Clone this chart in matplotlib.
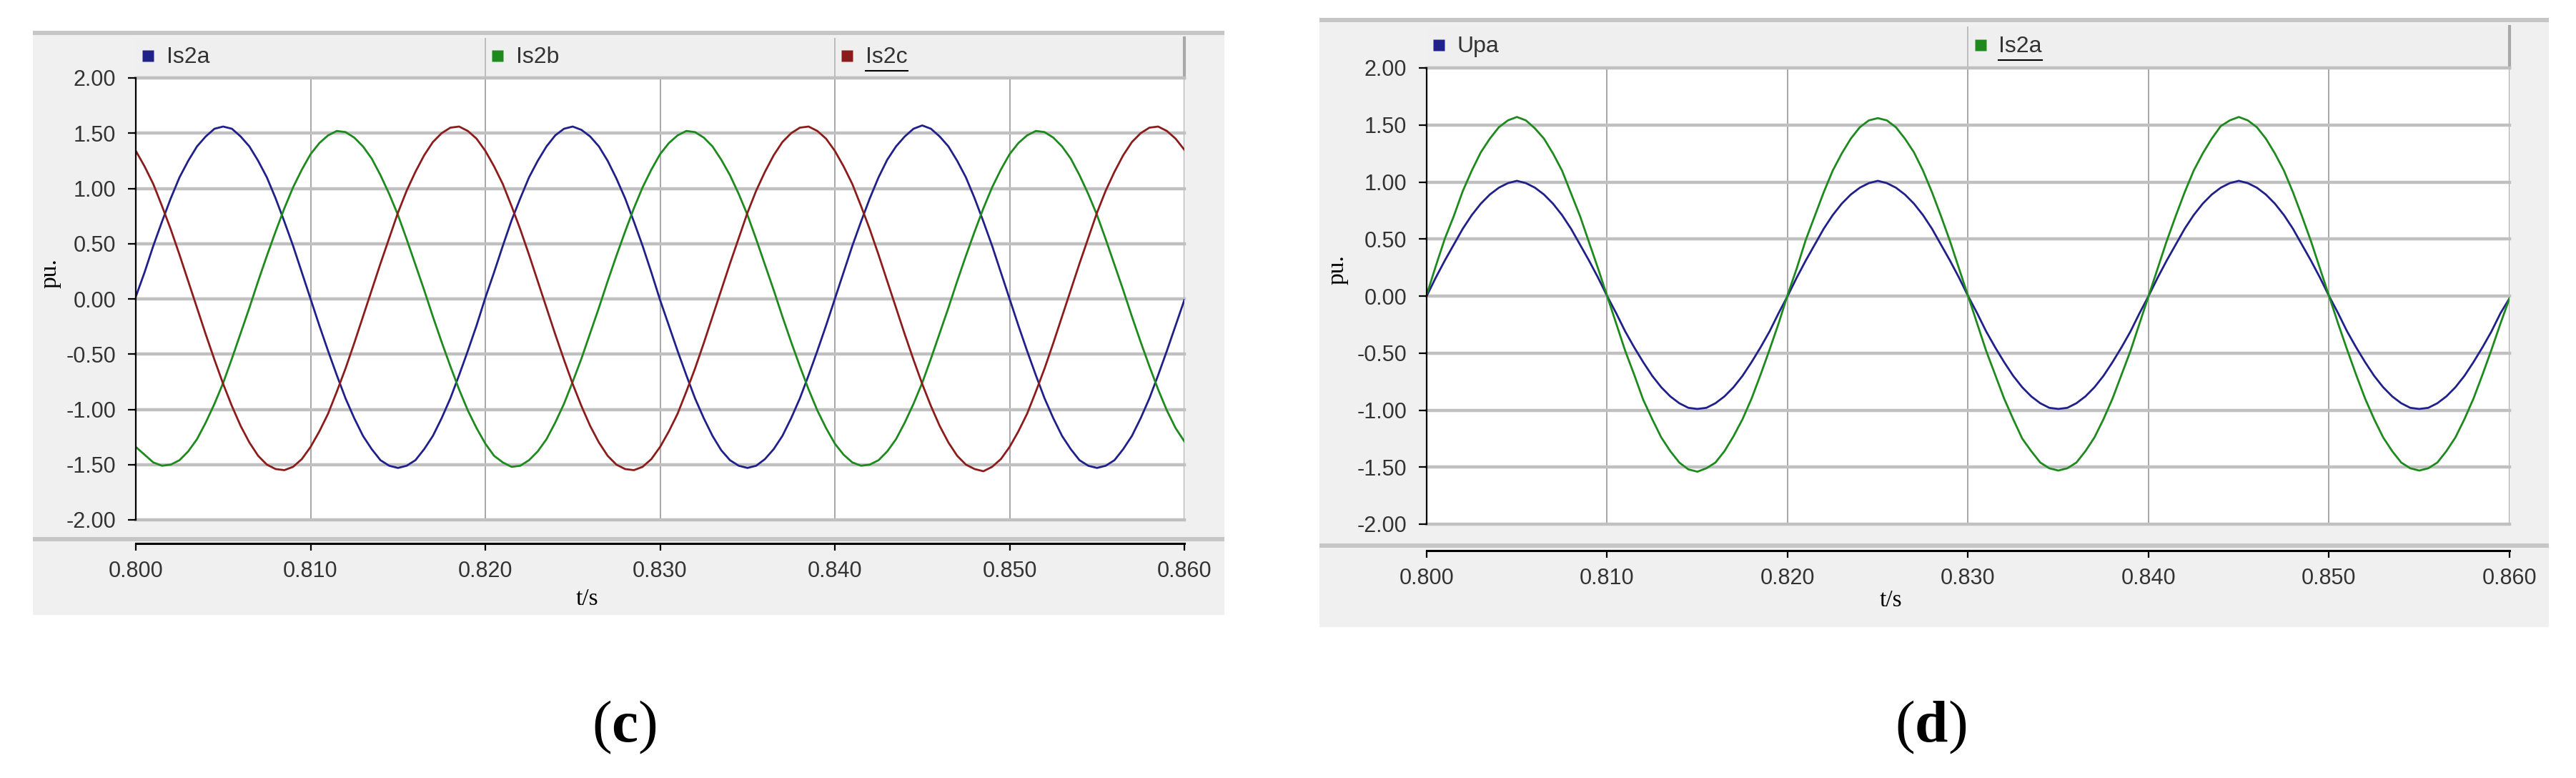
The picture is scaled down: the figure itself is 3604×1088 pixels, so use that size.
import numpy as np
import matplotlib
matplotlib.use("Agg")
import matplotlib.pyplot as plt
from matplotlib.patches import Rectangle
from matplotlib.lines import Line2D

plt.rcParams['mathtext.fontset'] = 'custom'
plt.rcParams['mathtext.rm'] = 'Liberation Serif'
plt.rcParams['mathtext.bf'] = 'Liberation Serif:bold'

W, H = 3604, 1088

# sample times (0.5 ms apart)
t = np.round(np.arange(0.800, 0.86025, 0.0005), 4)

x_ticks = [0.800, 0.810, 0.820, 0.830, 0.840, 0.850, 0.860]
y_ticks = [-2.0, -1.5, -1.0, -0.5, 0.0, 0.5, 1.0, 1.5, 2.0]

# panel (c): three phase currents
names_c = ["Is2a", "Is2b", "Is2c"]
colors_c = ["#20208a", "#1e8a1e", "#8c1c1c"]
is2a_c = [0.02, 0.24, 0.48, 0.70, 0.91, 1.10, 1.25, 1.38, 1.47, 1.54, 1.56, 1.54, 1.47, 1.38, 1.25, 1.10, 0.91, 0.70, 0.48, 0.24,
          0.00, -0.24, -0.47, -0.69, -0.90, -1.08, -1.24, -1.36, -1.46, -1.51, -1.53, -1.51, -1.46, -1.36, -1.24, -1.08, -0.90, -0.69, -0.47, -0.24,
          0.01, 0.24, 0.48, 0.71, 0.91, 1.10, 1.25, 1.38, 1.48, 1.54, 1.56, 1.53, 1.47, 1.38, 1.25, 1.09, 0.91, 0.70, 0.48, 0.24,
          -0.01, -0.24, -0.47, -0.69, -0.90, -1.08, -1.24, -1.37, -1.46, -1.51, -1.53, -1.51, -1.45, -1.36, -1.24, -1.08, -0.90, -0.69, -0.47, -0.24,
          0.00, 0.24, 0.48, 0.70, 0.91, 1.10, 1.26, 1.38, 1.47, 1.54, 1.57, 1.54, 1.47, 1.38, 1.25, 1.10, 0.91, 0.70, 0.48, 0.24,
          0.00, -0.24, -0.47, -0.69, -0.90, -1.08, -1.24, -1.36, -1.46, -1.51, -1.53, -1.51, -1.46, -1.36, -1.24, -1.08, -0.90, -0.69, -0.47, -0.24,
          -0.01]
is2b_c = [-1.34, -1.41, -1.48, -1.51, -1.50, -1.46, -1.38, -1.27, -1.12, -0.95, -0.76, -0.54, -0.31, -0.08, 0.16, 0.39, 0.61, 0.82, 1.01, 1.17,
          1.31, 1.41, 1.48, 1.52, 1.51, 1.46, 1.38, 1.27, 1.12, 0.95, 0.76, 0.54, 0.31, 0.08, -0.16, -0.39, -0.61, -0.82, -1.01, -1.17,
          -1.31, -1.42, -1.48, -1.52, -1.51, -1.46, -1.38, -1.27, -1.12, -0.95, -0.75, -0.54, -0.31, -0.08, 0.16, 0.39, 0.61, 0.82, 1.01, 1.17,
          1.31, 1.41, 1.48, 1.52, 1.51, 1.46, 1.38, 1.26, 1.12, 0.95, 0.76, 0.54, 0.31, 0.08, -0.16, -0.39, -0.61, -0.82, -1.01, -1.17,
          -1.31, -1.41, -1.48, -1.51, -1.50, -1.46, -1.38, -1.27, -1.12, -0.95, -0.76, -0.54, -0.31, -0.08, 0.16, 0.39, 0.61, 0.82, 1.01, 1.17,
          1.31, 1.41, 1.48, 1.52, 1.51, 1.46, 1.38, 1.27, 1.12, 0.95, 0.76, 0.54, 0.31, 0.08, -0.16, -0.39, -0.61, -0.82, -1.01, -1.17,
          -1.29]
is2c_c = [1.34, 1.20, 1.04, 0.84, 0.63, 0.40, 0.16, -0.08, -0.32, -0.55, -0.77, -0.97, -1.15, -1.30, -1.42, -1.50, -1.54, -1.55, -1.52, -1.45,
          -1.34, -1.20, -1.04, -0.84, -0.63, -0.40, -0.16, 0.08, 0.32, 0.55, 0.78, 0.98, 1.15, 1.30, 1.42, 1.50, 1.55, 1.56, 1.52, 1.45,
          1.34, 1.20, 1.04, 0.84, 0.63, 0.40, 0.16, -0.08, -0.32, -0.55, -0.77, -0.97, -1.15, -1.30, -1.42, -1.50, -1.54, -1.55, -1.52, -1.45,
          -1.34, -1.20, -1.04, -0.84, -0.63, -0.40, -0.16, 0.08, 0.32, 0.55, 0.78, 0.98, 1.15, 1.30, 1.42, 1.50, 1.55, 1.56, 1.52, 1.45,
          1.34, 1.20, 1.04, 0.84, 0.63, 0.40, 0.16, -0.08, -0.32, -0.55, -0.77, -0.97, -1.15, -1.30, -1.42, -1.50, -1.54, -1.56, -1.52, -1.45,
          -1.34, -1.20, -1.04, -0.84, -0.63, -0.40, -0.16, 0.08, 0.32, 0.55, 0.78, 0.98, 1.15, 1.30, 1.42, 1.50, 1.55, 1.56, 1.52, 1.45,
          1.35]

# panel (d): voltage and current of phase a
names_d = ["Upa", "Is2a"]
colors_d = ["#20208a", "#1e8a1e"]
upa_d = [0.00, 0.16, 0.31, 0.45, 0.59, 0.71, 0.81, 0.89, 0.95, 0.99, 1.01, 0.99, 0.95, 0.89, 0.81, 0.71, 0.59, 0.45, 0.31, 0.16,
         0.00, -0.15, -0.31, -0.45, -0.58, -0.70, -0.80, -0.88, -0.94, -0.98, -0.99, -0.98, -0.94, -0.88, -0.80, -0.70, -0.58, -0.45, -0.31, -0.15,
         0.00, 0.16, 0.31, 0.45, 0.59, 0.71, 0.81, 0.89, 0.95, 0.99, 1.01, 0.99, 0.95, 0.89, 0.81, 0.71, 0.59, 0.45, 0.31, 0.16,
         0.00, -0.15, -0.31, -0.45, -0.58, -0.70, -0.80, -0.88, -0.94, -0.98, -0.99, -0.98, -0.94, -0.88, -0.80, -0.70, -0.58, -0.45, -0.31, -0.15,
         0.00, 0.16, 0.31, 0.45, 0.59, 0.71, 0.81, 0.89, 0.95, 0.99, 1.01, 0.99, 0.95, 0.89, 0.81, 0.71, 0.59, 0.45, 0.31, 0.16,
         0.00, -0.15, -0.31, -0.45, -0.58, -0.70, -0.80, -0.88, -0.94, -0.98, -0.99, -0.98, -0.94, -0.88, -0.80, -0.70, -0.58, -0.45, -0.31, -0.15,
         -0.02]
is2a_d = [0.01, 0.26, 0.50, 0.70, 0.92, 1.10, 1.26, 1.38, 1.48, 1.54, 1.57, 1.54, 1.47, 1.38, 1.25, 1.10, 0.90, 0.70, 0.47, 0.24,
          0.00, -0.24, -0.48, -0.69, -0.91, -1.08, -1.24, -1.36, -1.46, -1.52, -1.54, -1.51, -1.46, -1.36, -1.23, -1.08, -0.90, -0.69, -0.47, -0.24,
          0.01, 0.24, 0.49, 0.70, 0.91, 1.10, 1.25, 1.38, 1.48, 1.54, 1.56, 1.54, 1.48, 1.38, 1.26, 1.10, 0.91, 0.70, 0.48, 0.24,
          0.00, -0.24, -0.48, -0.69, -0.90, -1.08, -1.25, -1.36, -1.46, -1.51, -1.53, -1.51, -1.46, -1.36, -1.24, -1.08, -0.90, -0.69, -0.48, -0.24,
          0.00, 0.24, 0.48, 0.70, 0.91, 1.10, 1.25, 1.38, 1.49, 1.54, 1.57, 1.54, 1.48, 1.38, 1.25, 1.10, 0.91, 0.70, 0.48, 0.24,
          0.00, -0.24, -0.47, -0.69, -0.90, -1.08, -1.24, -1.36, -1.46, -1.51, -1.53, -1.51, -1.46, -1.36, -1.24, -1.08, -0.90, -0.69, -0.47, -0.24,
          -0.02]


def fx(x):
    return x / W


def fy(y):
    return 1 - y / H


def frect(fig, x0, y0, x1, y1, color):
    fig.patches.append(Rectangle((fx(x0), fy(y1)), fx(x1 - x0), (y1 - y0) / H,
                                 transform=fig.transFigure, facecolor=color,
                                 edgecolor='none', zorder=-10))


def draw_panel(fig, lay, names, colors, series, tag):
    px0, py0, px1, py1 = lay['panel']
    l, top, r, bot = lay['plot']
    frect(fig, px0, py0, px1, py1, '#f0f0f0')
    frect(fig, px0, py0, px1, py0 + 6, '#c6c6c6')
    frect(fig, px0, lay['sep'], px1, lay['sep'] + 6, '#c6c6c6')

    # legend strip
    st = lay['strip']
    lg = fig.add_axes([fx(l), fy(top), fx(r - l), (top - st) / H])
    lg.set_facecolor('#efefef')
    lg.set_xlim(0, 1)
    lg.set_ylim(0, 1)
    lg.set_xticks([])
    lg.set_yticks([])
    for s in ['left', 'top']:
        lg.spines[s].set_visible(False)
    for s in ['right', 'bottom']:
        lg.spines[s].set_color('#a8a8a8')
        lg.spines[s].set_linewidth(3)
    n = len(names)
    wpx = r - l
    txts = []
    for i, (nm, c) in enumerate(zip(names, colors)):
        x0 = i / n
        if i > 0:
            lg.axvline(x0, color='#b4b4b4', lw=1.2)
        lg.plot([x0 + 17 / wpx], [0.55], marker='s', ms=12, color=c,
                mec='none', ls='none')
        tx = lg.text(x0 + 43 / wpx, 0.52, nm, ha='left', va='center',
                     fontsize=23, color='#333333', family='Liberation Sans')
        txts.append(tx)

    # main plot
    ax = fig.add_axes([fx(l), fy(bot), fx(r - l), (bot - top) / H])
    ax.set_facecolor('white')
    for nm, c, v in zip(names, colors, series):
        ax.plot(t, v, color=c, lw=2.0, zorder=3)
    ax.set_xlim(0.8, 0.86)
    ax.set_ylim(-2, 2)
    ax.set_xticks(x_ticks)
    ax.set_yticks(y_ticks)
    ax.set_yticklabels([f"{v:.2f}" for v in y_ticks])
    ax.tick_params(axis='x', length=0, labelbottom=False)
    ax.tick_params(axis='y', length=8, width=1.6, direction='out', pad=12,
                   labelsize=22, labelcolor='#333333')
    for s in ['top', 'right', 'bottom']:
        ax.spines[s].set_visible(False)
    ax.spines['left'].set_linewidth(1.6)
    ax.spines['left'].set_zorder(5)
    ax.yaxis.grid(True, color='#c0c0c0', lw=3.2)
    ax.xaxis.grid(True, color='#a0a0a0', lw=1.3)
    for gl in ax.get_ygridlines():
        gl.set_clip_on(False)
    ax.set_axisbelow(True)
    for lab in ax.get_yticklabels():
        lab.set_family('Liberation Sans')

    # separate time axis below
    ay = lay['axis']
    axx = fig.add_axes([fx(l), fy(ay), fx(r - l), 0.0001])
    axx.patch.set_visible(False)
    axx.set_xlim(0.8, 0.86)
    axx.set_xticks(x_ticks)
    axx.set_xticklabels([f"{v:.3f}" for v in x_ticks])
    axx.set_yticks([])
    for s in ['top', 'right', 'left']:
        axx.spines[s].set_visible(False)
    axx.spines['bottom'].set_linewidth(2.2)
    axx.tick_params(axis='x', length=7, width=1.6, direction='out', pad=10,
                    labelsize=22, labelcolor='#333333')
    for lab in axx.get_xticklabels():
        lab.set_family('Liberation Sans')

    fig.text(fx(lay['tlabel'][0]), fy(lay['tlabel'][1]), 't/s', ha='center',
             va='center', fontsize=24, family='Liberation Serif')
    fig.text(fx(lay['ylabel'][0]), fy(lay['ylabel'][1]), 'pu.', ha='center',
             va='center', rotation=90, fontsize=24, family='Liberation Serif')
    fig.text(fx(lay['tag'][0]), fy(lay['tag'][1]), '($\\mathbf{' + tag + '}$)',
             ha='center', va='center', fontsize=60, family='Liberation Serif')
    return txts[-1]


fig = plt.figure(figsize=(W / 100, H / 100), dpi=100)
fig.patch.set_facecolor('white')

lay_c = dict(panel=(46, 43, 1713, 860), plot=(190, 109, 1657, 727), strip=53,
             sep=751, axis=760, tlabel=(821, 838), ylabel=(70, 382),
             tag=(873, 1017))
lay_d = dict(panel=(1846, 25, 3566, 877), plot=(1996, 95, 3511, 733), strip=37,
             sep=760, axis=770, tlabel=(2645, 840), ylabel=(1871, 377),
             tag=(2701, 1017))

u1 = draw_panel(fig, lay_c, names_c, colors_c, [is2a_c, is2b_c, is2c_c], 'c')
u2 = draw_panel(fig, lay_d, names_d, colors_d, [upa_d, is2a_d], 'd')

# underline the selected legend entry
fig.canvas.draw()
for tx in [u1, u2]:
    bb = tx.get_window_extent()
    y = bb.y0 - 4
    fig.lines.append(Line2D([bb.x0 / W, bb.x1 / W], [y / H, y / H],
                            transform=fig.transFigure, color='black', lw=1.5))

fig.savefig('out.png', dpi=100, facecolor='white')
